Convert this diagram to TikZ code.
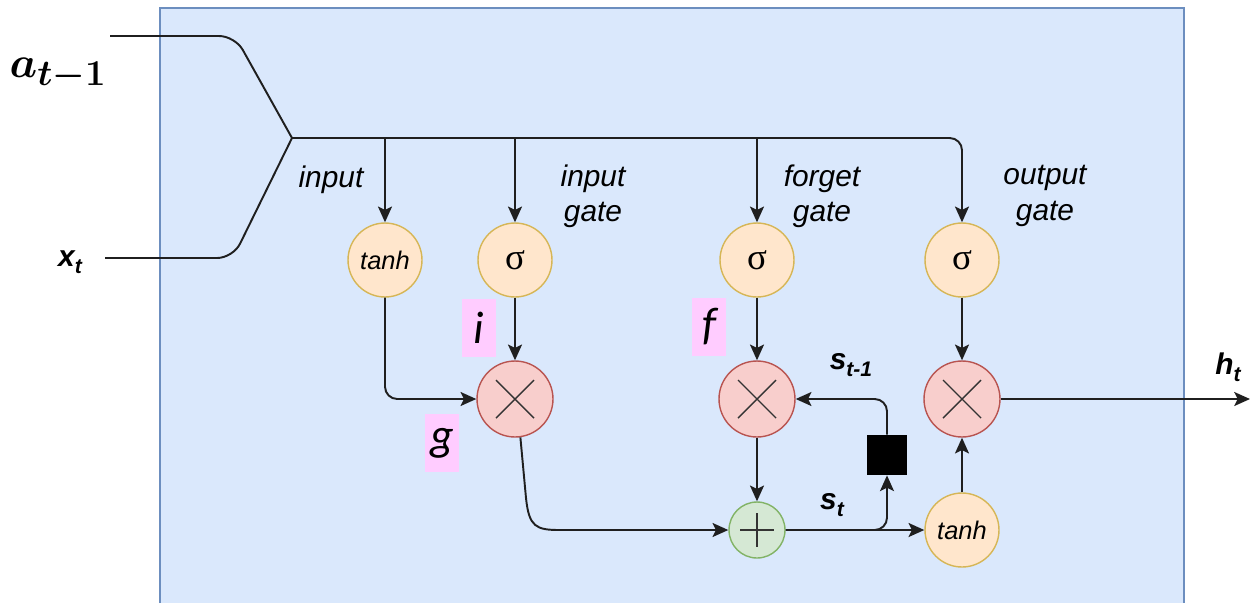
\documentclass[tikz,border=0pt]{standalone}
\usepackage[no-math]{fontspec}
\setmainfont{Liberation Serif}
\setsansfont{Liberation Sans}
\newfontfamily\calib{Carlito}
\usetikzlibrary{arrows.meta}
\definecolor{bgfill}{HTML}{DAE8FC}
\definecolor{bgstroke}{HTML}{6C8EBF}
\definecolor{ofill}{HTML}{FFE6CC}
\definecolor{ostroke}{HTML}{D6B656}
\definecolor{rfill}{HTML}{F8CECC}
\definecolor{rstroke}{HTML}{B85450}
\definecolor{gfill}{HTML}{D5E8D4}
\definecolor{gstroke}{HTML}{82B366}
\definecolor{pinkfill}{HTML}{FFCCFF}
\newcommand{\lowsub}[1]{\raisebox{-0.45ex}{\fontsize{12}{12}\selectfont #1}}
\newcommand{\atlabel}{\ensuremath{a_{t-1}}}
\begin{document}
\begin{tikzpicture}[x=0.02cm,y=-0.02cm,
  conn/.style={line width=1.1pt, draw=black!88},
  arr/.style={conn, -{Stealth[length=9pt,width=8pt,inset=2pt]}},
  ocirc/.style={circle, draw=ostroke, fill=ofill, line width=0.8pt, minimum size=1.48cm, inner sep=0pt},
  tanhtxt/.style={font=\sffamily\itshape\fontsize{14.5}{16}\selectfont},
  sigtxt/.style={font=\rmfamily\fontsize{21}{21}\selectfont},
  mcirc/.style={circle, draw=rstroke, fill=rfill, line width=0.8pt, minimum size=1.52cm, inner sep=0pt,
    path picture={\draw[line width=0.8pt,black!80] (path picture bounding box.center) ++(-19,-19) -- ++(38,38) ++(0,-38) -- ++(-38,38);}},
  pcirc/.style={circle, draw=gstroke, fill=gfill, line width=0.8pt, minimum size=1.12cm, inner sep=0pt,
    path picture={\draw[line width=0.8pt,black!80] (path picture bounding box.center) ++(-17,0) -- ++(34,0) ++(-17,-17) -- ++(0,34);}},
  lbl/.style={font=\sffamily\itshape\fontsize{17}{20}\selectfont, align=center, inner sep=0pt},
  var/.style={font=\sffamily\bfseries\itshape\fontsize{17}{20}\selectfont, inner sep=0pt},
  bigmath/.style={font=\fontsize{28}{30}\selectfont\boldmath, inner sep=0pt},
  pinkbox/.style={fill=pinkfill, inner sep=0pt, minimum width=0.68cm, minimum height=1.16cm, font=\calib\itshape\fontsize{26}{26}\selectfont},
  gatebox/.style={fill=black, minimum size=0.8cm, inner sep=0pt}
]
\useasboundingbox (0,0) rectangle (1252,603);
\fill[bgfill] (160,8) rectangle (1184,603);
\draw[bgstroke, line width=1pt] (160,603) -- (160,8) -- (1184,8) -- (1184,603);

% nodes
\node[ocirc, tanhtxt] (tanh1) at (385,260) {tanh};
\node[ocirc, sigtxt] (sig1) at (515,260) {σ};
\node[ocirc, sigtxt] (sig2) at (757,260) {σ};
\node[ocirc, sigtxt] (sig3) at (962,260) {σ};
\node[mcirc] (mul1) at (515,399) {};
\node[mcirc] (mul2) at (757,399) {};
\node[mcirc] (mul3) at (962,399) {};
\node[pcirc] (plus) at (757,530) {};
\node[ocirc, tanhtxt] (tanh2) at (962,530) {tanh};
\node[gatebox] (sq) at (887,455) {};

\coordinate (j) at (292,138);
\coordinate (aIn) at (110,36);
\coordinate (xIn) at (105,258);
\coordinate (hOut) at (1250,399);

% connectors
\draw[conn, rounded corners=9pt] (aIn) -- (235,36) -- (j);
\draw[conn, rounded corners=9pt] (xIn) -- (233,258) -- (j);
\draw[arr, rounded corners=7pt] (j) -| (sig3.north);
\draw[arr] (tanh1 |- j) -- (tanh1.north);
\draw[arr] (sig1 |- j) -- (sig1.north);
\draw[arr] (sig2 |- j) -- (sig2.north);
\draw[arr, rounded corners=7pt] (tanh1.south) |- (mul1.west);
\draw[arr] (sig1) -- (mul1);
\draw[arr] (sig2) -- (mul2);
\draw[arr] (sig3) -- (mul3);
\draw[arr] (mul1.-82) -- (526,498) .. controls (529,527) and (536,530) .. (560,530) -- (plus.west);
\draw[arr] (mul2) -- (plus);
\draw[arr] (plus) -- (tanh2);
\draw[arr, rounded corners=7pt] (plus.east) -| (sq.south);
\draw[arr, rounded corners=7pt] (sq.north) |- (mul2.east);
\draw[arr] (tanh2) -- (mul3);
\draw[arr] (mul3) -- (hOut);

% labels
\node[lbl] (Linput) at (331,180) {input};
\node[lbl] (Lig) at (593,196) {input\\gate};
\node[lbl] (Lfg) at (822,196) {forget\\gate};
\node[lbl] (Log) at (1045,196) {output\\gate};
\node[var] (xt) at (70,262) {x\lowsub{t}};
\node[var] (ht) at (1228,367) {h\lowsub{t}};
\node[var] (st1) at (851,365) {s\lowsub{t-1}};
\node[var] (st) at (832,505) {s\lowsub{t}};
\node[bigmath] (alab) at (58,74) {\atlabel};
\node[pinkbox] (iL) at (479,328) {i};
\node[pinkbox] (fL) at (709,327) {f};
\node[pinkbox] (gL) at (442,443) {g};
\end{tikzpicture}
\end{document}
